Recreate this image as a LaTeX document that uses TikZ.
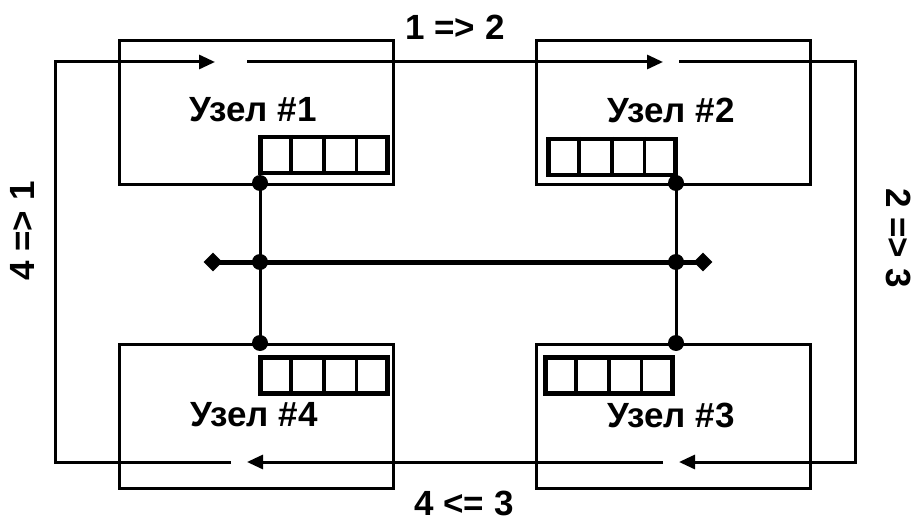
\documentclass[tikz,border=0pt]{standalone}
\usepackage{fontspec}
\setmainfont{Liberation Sans}
\usetikzlibrary{arrows.meta,shapes.geometric,calc}
\begin{document}
\begin{tikzpicture}[x=1pt,y=-1pt,
  nodebox/.style={draw,line width=3pt,minimum width=274pt,minimum height=144pt,inner sep=0pt,anchor=north west},
  buf/.style={draw,line width=4.5pt,minimum width=127pt,minimum height=36pt,inner sep=0pt,anchor=north west},
  lbl/.style={font=\fontsize{35}{42}\selectfont\bfseries,inner sep=0pt},
  dot/.style={circle,fill,minimum size=16pt,inner sep=0pt},
  endmark/.style={diamond,fill,minimum size=19pt,inner sep=0pt},
  ring/.style={line width=3pt},
  ringarrow/.style={line width=3pt,-{Triangle[length=16pt,width=14pt]}},
  tap/.style={line width=3pt},
  bus/.style={line width=5pt}]
\useasboundingbox (0,0) rectangle (917,521);
% node boxes
\node[nodebox] (n1) at (118,39) {};
\node[nodebox] (n2) at (535,39) {};
\node[nodebox] (n4) at (118,343) {};
\node[nodebox] (n3) at (535,343) {};
% labels
\node[lbl] (t1) at (253,110) {Узел \#1};
\node[lbl] (t2) at (671,110) {Узел \#2};
\node[lbl] (t4) at (254,415) {Узел \#4};
\node[lbl] (t3) at (671,415) {Узел \#3};
% buffers
\node[buf] (b1) at (258,135) {};
\node[buf] (b2) at (546,137) {};
\node[buf] (b4) at (258,355) {};
\node[buf] (b3) at (543,355) {};
\foreach \b in {b1,b2,b3,b4}{
  \foreach \f in {0.25,0.5,0.75}{
    \draw[line width=3.5pt] ($(\b.north west)!\f!(\b.north east)$) -- ($(\b.south west)!\f!(\b.south east)$);
  }
}
% ring
\coordinate (r1) at (55,62);
\coordinate (r2) at (855,62);
\coordinate (r3) at (855,462);
\coordinate (r4) at (55,462);
\coordinate (a1) at (215,62);
\coordinate (s1) at (247,62);
\coordinate (a2) at (663,62);
\coordinate (s2) at (679,62);
\coordinate (a3) at (679,462);
\coordinate (s3) at (663,462);
\coordinate (a4) at (247,462);
\coordinate (s4) at (231,462);
\draw[ringarrow] (s4) -- (r4) -- (r1) -- (a1);
\draw[ringarrow] (s1) -- (a2);
\draw[ringarrow] (s2) -- (r2) -- (r3) -- (a3);
\draw[ringarrow] (s3) -- (a4);
% bus
\node[dot] (d1) at (260,183) {};
\node[dot] (d2) at (676,183) {};
\node[dot] (d4) at (260,343) {};
\node[dot] (d3) at (676,343) {};
\node[dot] (j1) at (260,262) {};
\node[dot] (j2) at (676,262) {};
\node[endmark] (e1) at (213,262) {};
\node[endmark] (e2) at (703,262) {};
\draw[bus] (e1.center) -- (e2.center);
\draw[tap] (d1.center) -- (d4.center);
\draw[tap] (d2.center) -- (d3.center);
% ring labels
\node[lbl] (l12) at (455,27) {1 => 2};
\node[lbl] (l43) at (464,503) {4 <= 3};
\node[lbl,rotate=90] (l41) at (22,231) {4 => 1};
\node[lbl,rotate=-90] (l23) at (899,238) {2 => 3};
\end{tikzpicture}
\end{document}
